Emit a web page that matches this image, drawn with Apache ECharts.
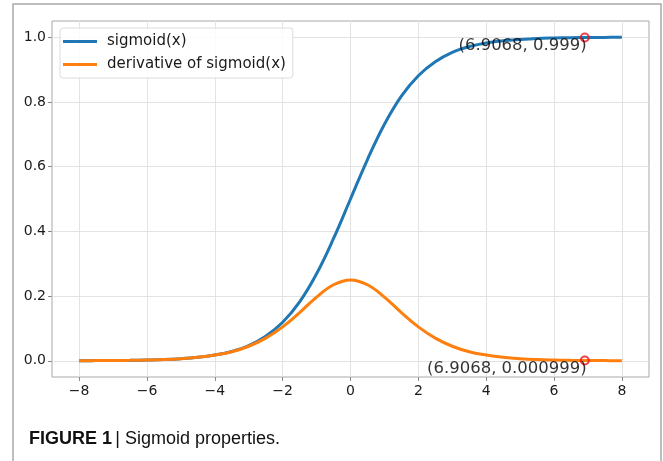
<!DOCTYPE html>
<html>
<head>
<meta charset="utf-8">
<script src="https://cdn.jsdelivr.net/npm/echarts@6/dist/echarts.min.js"></script>
<style>
  html, body { margin: 0; padding: 0; background: #fff; }
  #main { width: 663px; height: 461px; }
</style>
</head>
<body>
<div id="main"></div>
<script>
// x positions
var xs = [-8, -7.5, -7, -6.5, -6, -5.5, -5, -4.5, -4, -3.5, -3, -2.5, -2, -1.5, -1, -0.5,
          0, 0.5, 1, 1.5, 2, 2.5, 3, 3.5, 4, 4.5, 5, 5.5, 6, 6.5, 7, 7.5, 8];
// sigmoid(x)
var sigmoidVals = [0.0003, 0.0006, 0.0009, 0.0015, 0.0025, 0.004, 0.0067, 0.011, 0.018, 0.029, 0.047, 0.076,
                   0.119, 0.182, 0.269, 0.378, 0.5, 0.622, 0.731, 0.818, 0.881, 0.924, 0.953, 0.971,
                   0.982, 0.989, 0.993, 0.996, 0.9975, 0.9985, 0.9991, 0.9994, 0.9997];
// derivative
var derivVals = [0.0003, 0.0006, 0.0009, 0.0015, 0.0025, 0.004, 0.0066, 0.011, 0.018, 0.028, 0.045, 0.070,
                 0.105, 0.149, 0.197, 0.235, 0.25, 0.235, 0.197, 0.149, 0.105, 0.070, 0.045, 0.028,
                 0.018, 0.011, 0.0066, 0.004, 0.0025, 0.0015, 0.0009, 0.0006, 0.0003];
// annotated points
var markX = [6.9068, 6.9068];
var markY = [0.999, 0.000999];
var markText = ['(6.9068, 0.999)', '(6.9068, 0.000999)'];

var xTicks = [-8, -6, -4, -2, 0, 2, 4, 6, 8];
var yTicks = [0, 0.2, 0.4, 0.6, 0.8, 1.0];

var chart = echarts.init(document.getElementById('main'));

var sigData = xs.map(function (x, i) { return [x, sigmoidVals[i]]; });
var derData = xs.map(function (x, i) { return [x, derivVals[i]]; });
var marks = markX.map(function (x, i) { return { value: [x, markY[i]], label: { formatter: markText[i] } }; });

var tickFont = { fontFamily: 'DejaVu Sans', fontSize: 14, color: '#1a1a1a' };

var option = {
  animation: false,
  backgroundColor: '#fff',
  graphic: [
    { type: 'rect', shape: { x: 13, y: 4, width: 648, height: 470 },
      style: { fill: 'none', stroke: '#a8a8a8', lineWidth: 1.5 }, silent: true },
    { type: 'text', left: 29, top: 430,
      style: { rich: {
        b: { fontFamily: 'Liberation Sans', fontWeight: 'bold', fontSize: 18, fill: '#111' },
        n: { fontFamily: 'Liberation Sans', fontSize: 18, fill: '#111' }
      }, text: '{b|FIGURE 1} {n|| Sigmoid properties.}' } }
  ],
  grid: {
    left: 52, top: 21, width: 597, height: 356,
    show: true, borderColor: '#a8a8a8', borderWidth: 1, backgroundColor: 'transparent'
  },
  legend: {
    orient: 'vertical', left: 60, top: 28,
    padding: [6, 7, 6, 3],
    icon: 'rect', itemWidth: 34, itemHeight: 3, itemGap: 8,
    backgroundColor: 'rgba(255,255,255,0.85)',
    borderColor: '#dcdcdc', borderWidth: 1, borderRadius: 3,
    textStyle: { fontFamily: 'DejaVu Sans', fontSize: 15, lineHeight: 14, color: '#1a1a1a', padding: [0, 0, 0, 5] },
    data: ['sigmoid(x)', 'derivative of sigmoid(x)']
  },
  xAxis: {
    type: 'value', min: -8.8, max: 8.8,
    axisLine: { show: false, onZero: false },
    axisTick: { show: true, length: 4, lineStyle: { color: '#888' }, customValues: xTicks },
    axisLabel: Object.assign({ margin: 7, customValues: xTicks,
      formatter: function (v) { return v < 0 ? '\u2212' + (-v) : String(v); } }, tickFont),
    splitLine: { show: true, lineStyle: { color: '#e3e3e3', width: 1 }, customValues: xTicks }
  },
  yAxis: {
    type: 'value', min: -0.05, max: 1.05,
    axisLine: { show: false, onZero: false },
    axisTick: { show: true, length: 4, lineStyle: { color: '#888' }, customValues: yTicks },
    axisLabel: Object.assign({ margin: 6, customValues: yTicks,
      formatter: function (v) { return v.toFixed(1); } }, tickFont),
    splitLine: { show: true, lineStyle: { color: '#e3e3e3', width: 1 }, customValues: yTicks }
  },
  series: [
    {
      name: 'sigmoid(x)', type: 'line', data: sigData,
      smooth: 0.4, showSymbol: false, symbol: 'none',
      lineStyle: { color: '#1f77b4', width: 3 }, itemStyle: { color: '#1f77b4' }, z: 3
    },
    {
      name: 'derivative of sigmoid(x)', type: 'line', data: derData,
      smooth: 0.4, showSymbol: false, symbol: 'none',
      lineStyle: { color: '#ff7f0e', width: 3 }, itemStyle: { color: '#ff7f0e' }, z: 4
    },
    {
      type: 'scatter', data: marks, symbol: 'circle', symbolSize: 8, z: 5,
      itemStyle: { color: 'rgba(0,0,0,0)', borderColor: '#e8121b', borderWidth: 2 },
      label: {
        show: true, position: 'inside', align: 'right', verticalAlign: 'middle',
        offset: [2, 8], fontFamily: 'DejaVu Sans', fontSize: 16.5, color: '#000',
        textBorderWidth: 0
      }
    }
  ]
};
chart.setOption(option);
</script>
</body>
</html>
